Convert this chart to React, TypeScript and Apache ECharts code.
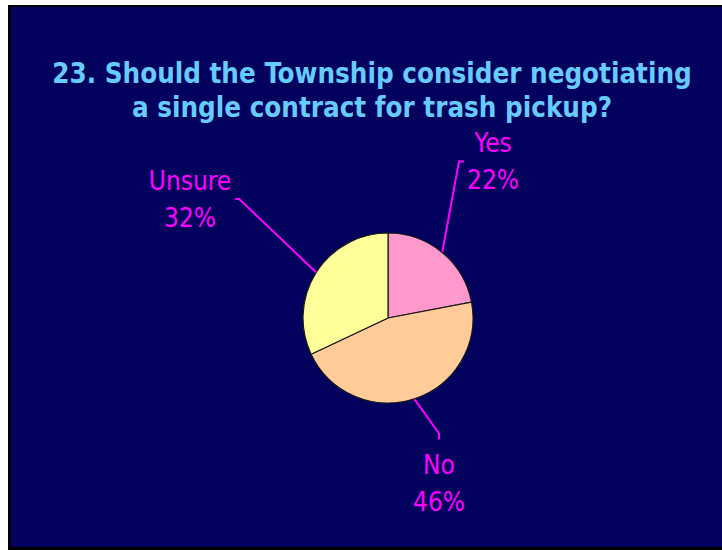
import React, { useEffect, useRef } from 'react';
import * as echarts from 'echarts';

const titleLines = ['23. Should the Township consider negotiating', 'a single contract for trash pickup?'];
const categories = ['Yes', 'No', 'Unsure'];
const values = [22, 46, 32];
const sliceColors = ['#ff99cc', '#ffcc99', '#ffff99'];

// label block centres and which side of the label faces the pie
const labelPlacement: { x: number; y: number; side: 'left' | 'right' | 'top' }[] = [
  { x: 493, y: 161.5, side: 'left' },
  { x: 439, y: 483.5, side: 'top' },
  { x: 190, y: 199, side: 'right' },
];

const PIE_CENTER: [number, number] = [388, 318];
const PIE_RADIUS = 85;

export default function App() {
  const ref = useRef<HTMLDivElement>(null);
  useEffect(() => {
    if (!ref.current) return;
    const chart = echarts.init(ref.current, undefined, { renderer: 'svg' });
    const total = values.reduce((a, b) => a + b, 0);
    const midAngles: number[] = [];
    let acc = 0;
    values.forEach((v) => {
      const a0 = 90 - (acc / total) * 360;
      acc += v;
      const a1 = 90 - (acc / total) * 360;
      midAngles.push(((a0 + a1) / 2) * Math.PI / 180);
    });
    chart.setOption({
      animation: false,
      backgroundColor: 'transparent',
      graphic: [
        {
          type: 'text',
          x: 372,
          y: 90,
          style: {
            text: titleLines.join('\n'),
            font: 'bold 27.5px "DejaVu Sans Condensed", "DejaVu Sans", sans-serif',
            fill: '#66ccff',
            align: 'center',
            verticalAlign: 'middle',
            lineHeight: 34,
            textShadowColor: '#000022',
            textShadowOffsetX: 2,
            textShadowOffsetY: 2,
            textShadowBlur: 0,
          },
        },
      ],
      series: [
        {
          type: 'pie',
          center: PIE_CENTER,
          radius: PIE_RADIUS,
          startAngle: 90,
          clockwise: true,
          avoidLabelOverlap: false,
          data: categories.map((name, i) => ({ name, value: values[i], itemStyle: { color: sliceColors[i] } })),
          itemStyle: { borderColor: '#1a1a1a', borderWidth: 1.2 },
          label: {
            show: true,
            position: 'outside',
            formatter: '{b}\n{c}%',
            color: '#ff00ff',
            fontSize: 26,
            lineHeight: 37,
            fontFamily: '"DejaVu Sans Condensed", sans-serif',
          },
          labelLine: {
            show: true,
            length: 10,
            length2: 5,
            smooth: false,
            lineStyle: { color: '#ff00ff', width: 2 },
          },
          emphasis: { disabled: true },
          labelLayout: (params: any) => {
            const i = params.dataIndex;
            const p = labelPlacement[i];
            const w = params.labelRect.width;
            const h = params.labelRect.height;
            const start =
              params.labelLinePoints && params.labelLinePoints[0]
                ? params.labelLinePoints[0]
                : [
                    PIE_CENTER[0] + PIE_RADIUS * Math.cos(midAngles[i]),
                    PIE_CENTER[1] - PIE_RADIUS * Math.sin(midAngles[i]),
                  ];
            let end: number[];
            let bend: number[];
            if (p.side === 'left') {
              end = [p.x - w / 2 - 3, p.y];
              bend = [end[0] - 5, end[1]];
            } else if (p.side === 'right') {
              end = [p.x + w / 2 + 4, p.y];
              bend = [end[0] + 4, end[1]];
            } else {
              end = [p.x, p.y - h / 2 - 7];
              bend = [p.x, end[1] - 6];
            }
            return {
              x: p.x,
              y: p.y,
              align: 'center',
              verticalAlign: 'middle',
              labelLinePoints: [start, bend, end],
            };
          },
        },
      ],
    });
    return () => chart.dispose();
  }, []);

  return (
    <div style={{ position: 'absolute', left: 0, top: 0, width: 722, height: 550, background: '#ffffff', overflow: 'hidden' }}>
      <div
        style={{
          position: 'absolute',
          left: 8,
          top: 5,
          width: 714,
          height: 545,
          boxSizing: 'border-box',
          background: '#02025e',
          borderLeft: '3px solid #000',
          borderTop: '2px solid #000',
          borderBottom: '3px solid #000',
        }}
      />
      <div ref={ref} style={{ position: 'absolute', left: 0, top: 0, width: 722, height: 550 }} />
    </div>
  );
}
